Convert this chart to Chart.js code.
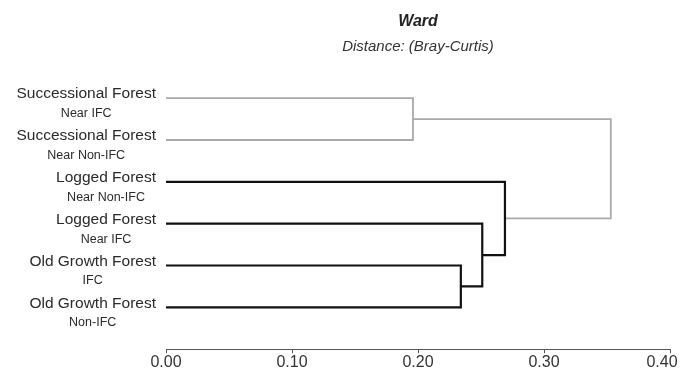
<!DOCTYPE html>
<html>
<head>
<meta charset="utf-8">
<script src="https://cdn.jsdelivr.net/npm/chart.js@4.4.1/dist/chart.umd.min.js"></script>
<style>
  html, body { margin: 0; padding: 0; background: #ffffff; }
  #wrap { width: 680px; height: 372px; position: relative; }
</style>
</head>
<body>
<div id="wrap"><canvas id="dendro"></canvas></div>
<script>
// Leaves of the dendrogram, top to bottom
const forestTypes = ['Successional Forest', 'Successional Forest', 'Logged Forest', 'Logged Forest', 'Old Growth Forest', 'Old Growth Forest'];
const siteTypes = ['Near IFC', 'Near Non-IFC', 'Near Non-IFC', 'Near IFC', 'IFC', 'Non-IFC'];

// Ward merges: node ids 0-5 are leaves, merge k creates node 6 + k
const mergeLeft = [0, 4, 3, 2, 6];
const mergeRight = [1, 5, 7, 8, 9];
const mergeDistance = [0.196, 0.234, 0.251, 0.269, 0.353];

// Distance axis ticks
const distanceTicks = [0.00, 0.10, 0.20, 0.30, 0.40];

// Link colours per merge
const GREY = '#a9a9a9';
const BLACK = '#111111';
const mergeColor = [GREY, BLACK, BLACK, BLACK, GREY];

const FONT = "'Liberation Sans', Arial, sans-serif";

// node positions: x = merge height (0 for leaves), y = leaf index / mean of children
const nodeX = forestTypes.map(() => 0);
const nodeY = forestTypes.map((_, i) => i);
mergeDistance.forEach((h, k) => {
  nodeX.push(h);
  nodeY.push((nodeY[mergeLeft[k]] + nodeY[mergeRight[k]]) / 2);
});

// one bracket-shaped line per merge
const datasets = mergeDistance.map((h, k) => {
  const a = mergeLeft[k], b = mergeRight[k];
  return {
    data: [
      { x: nodeX[a], y: nodeY[a] },
      { x: h, y: nodeY[a] },
      { x: h, y: nodeY[b] },
      { x: nodeX[b], y: nodeY[b] }
    ],
    showLine: true,
    borderColor: mergeColor[k],
    borderWidth: mergeColor[k] === GREY ? 1.8 : 2.2,
    borderJoinStyle: 'miter',
    borderCapStyle: 'butt',
    pointRadius: 0,
    pointHoverRadius: 0,
    fill: false
  };
});

// leaf names drawn to the left of the plot
const leafLabels = {
  id: 'leafLabels',
  afterDraw(chart) {
    const ctx = chart.ctx;
    const yScale = chart.scales.y;
    const right = chart.chartArea.left - 10;
    ctx.save();
    ctx.fillStyle = '#2a2a2a';
    ctx.textBaseline = 'middle';
    forestTypes.forEach((name, i) => {
      const y = yScale.getPixelForValue(i);
      ctx.font = '15.5px ' + FONT;
      ctx.textAlign = 'right';
      const w = ctx.measureText(name).width;
      ctx.fillText(name, right, y - 4);
      ctx.font = '12.5px ' + FONT;
      ctx.textAlign = 'center';
      ctx.fillText(siteTypes[i], right - w / 2, y + 15.5);
    });
    ctx.restore();
  }
};

new Chart(document.getElementById('dendro'), {
  type: 'scatter',
  data: { datasets },
  plugins: [leafLabels],
  options: {
    responsive: true,
    maintainAspectRatio: false,
    animation: false,
    events: [],
    layout: { padding: { left: 166, right: 10, top: 0, bottom: 0 } },
    plugins: {
      legend: { display: false },
      tooltip: { enabled: false },
      title: {
        display: true,
        text: 'Ward',
        color: '#222222',
        font: { family: FONT, size: 16, weight: 'bold', style: 'italic', lineHeight: 1.2 },
        padding: { top: 12, bottom: 0 }
      },
      subtitle: {
        display: true,
        text: 'Distance: (Bray-Curtis)',
        color: '#333333',
        font: { family: FONT, size: 15, style: 'italic', lineHeight: 1.0 },
        padding: { top: 8, bottom: 0 }
      }
    },
    scales: {
      x: {
        type: 'linear',
        position: 'bottom',
        min: distanceTicks[0],
        max: distanceTicks[distanceTicks.length - 1],
        afterBuildTicks(scale) {
          scale.ticks = distanceTicks.map(v => ({ value: v }));
        },
        afterFit(scale) {
          scale.paddingLeft = 0;
          scale.paddingRight = 0;
        },
        grid: { display: true, drawOnChartArea: false, drawTicks: true, tickLength: 4, color: '#555555' },
        border: { display: true, color: '#555555', width: 1 },
        ticks: {
          color: '#333333',
          padding: 1,
          font: { family: FONT, size: 16, lineHeight: 1.05 },
          maxRotation: 0,
          autoSkip: false,
          callback: (v, i, t) => v.toFixed(2) + (i === t.length - 1 ? '\u2002\u2002' : '')
        }
      },
      y: {
        type: 'linear',
        reverse: true,
        min: -1.05,
        max: 6,
        display: false
      }
    }
  }
});
</script>
</body>
</html>
